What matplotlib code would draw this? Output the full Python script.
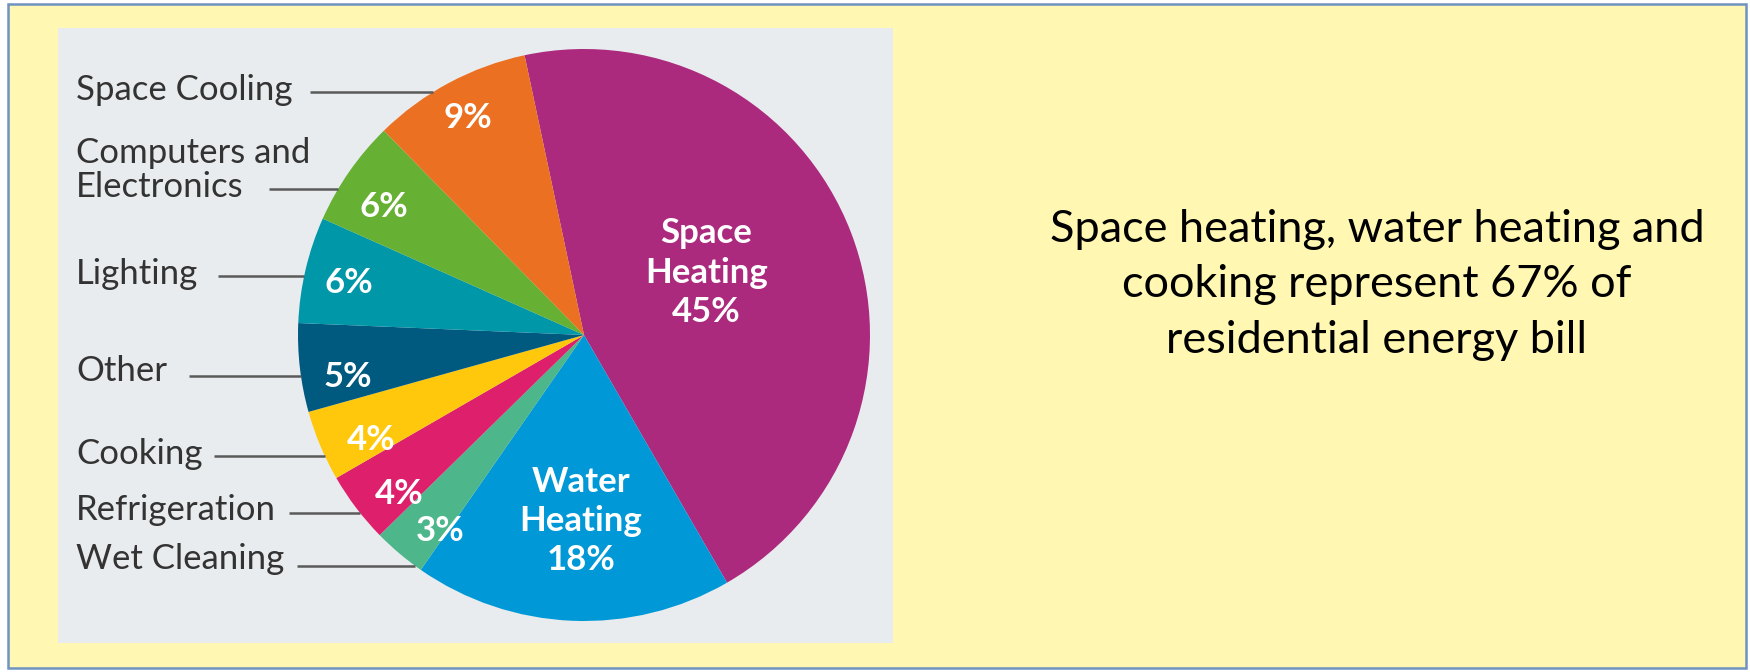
import matplotlib.pyplot as plt
from matplotlib.patches import Rectangle
import numpy as np

# slices, clockwise from the top
categories = ["Space Heating", "Water Heating", "Wet Cleaning", "Refrigeration",
              "Cooking", "Other", "Lighting", "Computers and\nElectronics", "Space Cooling"]
shares = [45, 18, 3, 4, 4, 5, 6, 6, 9]
colors = ["#AB2A7E", "#0098D6", "#4DB68A", "#DE1F6C", "#FFC80C",
          "#00597F", "#0097A8", "#66B033", "#EB7021"]
note = "Space heating, water heating and\ncooking represent 67% of\nresidential energy bill"

# layout (pie units, radius = 1)
inner_r = [0.48, 0.65, 0.85, 0.85, 0.83, 0.84, 0.84, 0.83, 0.86]
inner_nudge = [6, 1.5, 4, 3.5, 3.5, 3.4, 0.8, 2.2, 0]
label_text_y = {"Space Cooling": 0.857, "Computers and\nElectronics": 0.577, "Lighting": 0.213,
                "Other": -0.126, "Cooking": -0.416, "Refrigeration": -0.612, "Wet Cleaning": -0.783}
label_line_y = {"Space Cooling": 0.850, "Computers and\nElectronics": 0.510, "Lighting": 0.206,
                "Other": -0.143, "Cooking": -0.423, "Refrigeration": -0.622, "Wet Cleaning": -0.808}
label_line_x0 = {"Space Cooling": -0.958, "Computers and\nElectronics": -1.101, "Lighting": -1.280,
                 "Other": -1.381, "Cooking": -1.294, "Refrigeration": -1.031, "Wet Cleaning": -1.005}

W, H = 1750, 672
cx, cy, rad = 584, 335, 286
box = (58, 28, 893, 643)  # gray panel, pixels

fig = plt.figure(figsize=(W / 100, H / 100), dpi=100, facecolor="white")

# yellow slide background with blue frame
fig.patches.append(Rectangle((8 / W, 4 / H), 1738 / W, 664 / H, transform=fig.transFigure,
                             facecolor="#FFF7B2", edgecolor="#6F93C0", linewidth=1.8, zorder=-10))

ax = fig.add_axes([box[0] / W, 1 - box[3] / H, (box[2] - box[0]) / W, (box[3] - box[1]) / H],
                  zorder=1)
wedges, _ = ax.pie(shares, colors=colors, startangle=102, counterclock=False,
                   wedgeprops=dict(linewidth=0))
ax.set_xlim((box[0] - cx) / rad, (box[2] - cx) / rad)
ax.set_ylim((cy - box[3]) / rad, (cy - box[1]) / rad)
ax.set_aspect("auto")
ax.set_frame_on(True)
ax.set_facecolor("#E9ECEE")
for s in ax.spines.values():
    s.set_visible(False)

for w, name, v, r, nudge in zip(wedges, categories, shares, inner_r, inner_nudge):
    ang = np.deg2rad((w.theta1 + w.theta2) / 2 + nudge)
    txt = f"{v}%"
    if v >= 15:
        txt = name.replace(" ", "\n") + "\n" + txt
    ax.text(r * np.cos(ang), r * np.sin(ang), txt, ha="center", va="center",
            color="white", fontsize=25, fontweight="bold", family=["Lato", "DejaVu Sans"],
            linespacing=1.28)

for name in label_text_y:
    ax.text(-1.776, label_text_y[name], name, ha="left", va="center", fontsize=25,
            color="#333333", family=["Lato", "DejaVu Sans"], linespacing=1.1)
    y = label_line_y[name]
    ax.plot([label_line_x0[name], -np.sqrt(1 - y ** 2)], [y, y], color="#5A5A5A", lw=1.8,
            solid_capstyle="butt")

fig.text(1377 / W, 1 - 285 / H, note, ha="center", va="center", fontsize=32.5,
         family=["Lato", "DejaVu Sans"], linespacing=1.43, color="black")

fig.savefig("out.png", dpi=100, facecolor="white")
